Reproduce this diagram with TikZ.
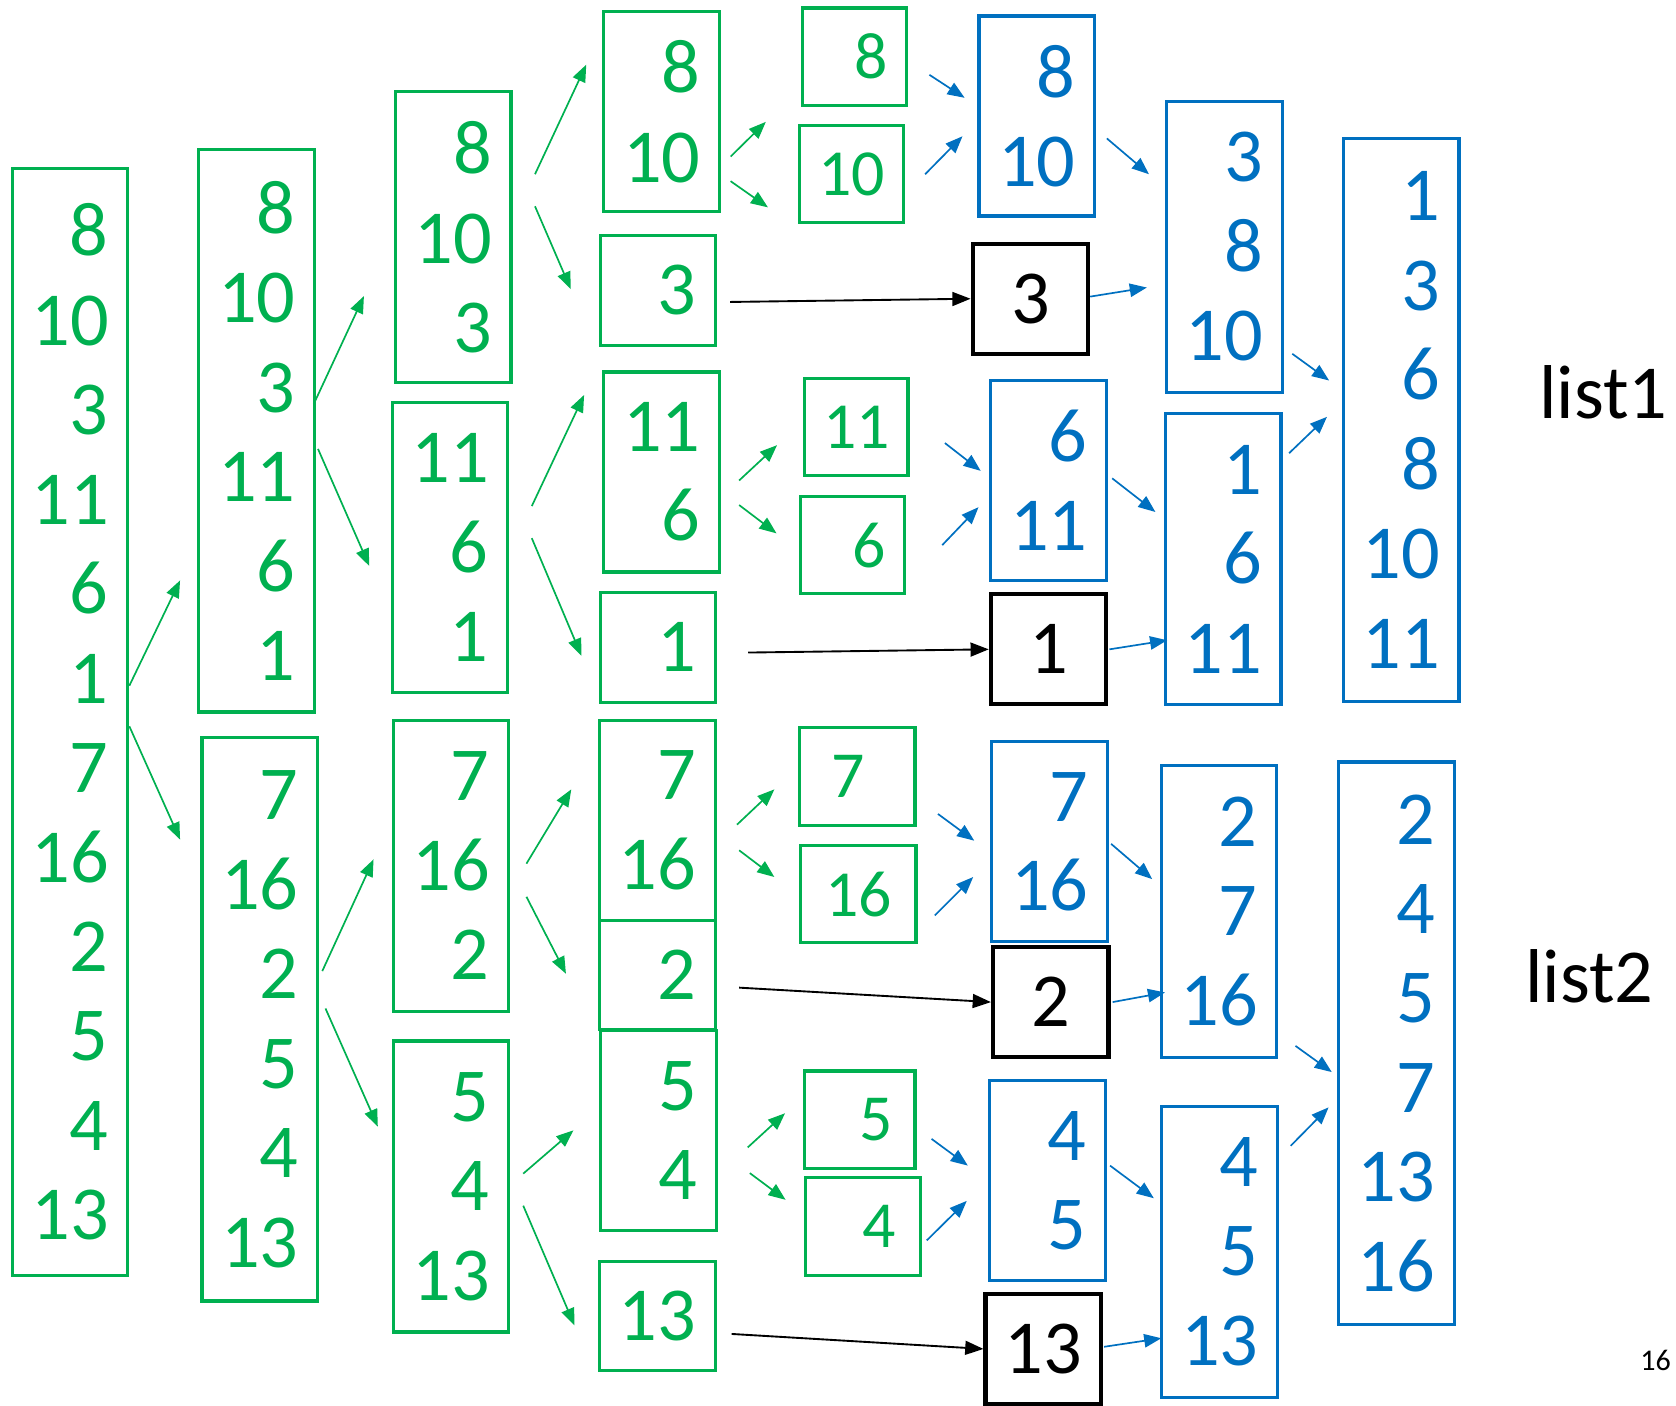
\documentclass[tikz,border=0pt]{standalone}
\usepackage{fontspec}
\setmainfont{Carlito}
\usetikzlibrary{calc, arrows.meta}
\definecolor{sortgreen}{HTML}{00B050}
\definecolor{sortblue}{HTML}{0070C0}
\newcommand{\numfont}{\fontsize{20.3}{23.8}\selectfont}
\newcommand{\leaffont}{\fontsize{17.5}{21}\selectfont}

\begin{document}
\begin{tikzpicture}[x=0.01cm, y=-0.01cm,
    split/.style={draw=sortgreen, text=sortgreen, line width=0.85pt, font=\numfont,
      align=right, text width=0.72cm, inner xsep=0.18cm, inner ysep=0pt, minimum width=1.08cm},
    leaf/.style={split, font=\leaffont, text width=0.62cm, inner xsep=0.175cm,
      minimum width=0.97cm, minimum height=0.91cm},
    merged/.style={split, draw=sortblue, text=sortblue},
    single/.style={draw=black, line width=1.1pt, font=\numfont, align=center,
      minimum width=1.08cm, minimum height=1.03cm, inner sep=0pt},
    garrow/.style={draw=sortgreen, line width=0.45pt, -{Triangle[length=0.16cm, width=0.125cm]}},
    barrow/.style={garrow, draw=sortblue},
    karrow/.style={draw=black, line width=0.5pt, -{Triangle[length=0.17cm, width=0.13cm]}}]
  \useasboundingbox (0,0) rectangle (1568,1315);

  % Splitting
  \node[split, minimum height=10.35cm] (A) at (65.5,675.5) {8\\10\\3\\11\\6\\1\\7\\16\\2\\5\\4\\13};
  \foreach \n/\x/\y/\h/\t in {B1/240/403/5.26/{8\\10\\3\\11\\6\\1}, B2/243/953.5/5.27/{7\\16\\2\\5\\4\\13},
      C1/424/222/2.72/{8\\10\\3}, C2/421/512.5/2.71/{11\\6\\1},
      C3/422/810/2.72/{7\\16\\2}, C4/422/1110/2.72/{5\\4\\13},
      D1/619/104.5/1.87/{8\\10}, D2/615.5/271.5/1.03/{3}, D3/619/441.5/1.87/{11\\6}, D4/615.5/605.5/1.03/{1},
      D5/615/767.5/1.87/{7\\16}, D6/615/912/1.02/{2}, D7/616/1057.5/1.87/{5\\4}, D8/615/1231/1.02/{13}} {
    \node[split, minimum height=\h cm] (\n) at (\x,\y) {\t};
  }
  % Leaves
  \foreach \n/\x/\y/\w/\t in {E1/799.5/53/0.97/8, E2/796.5/163/0.97/10, E3/801/399.5/0.97/11, E4/797.5/510/0.97/6,
      E5/802/726.5/1.08/{7\kern0.24cm}, E6/803/836.5/1.08/16, E7/804.5/1047.5/1.03/5, E8/807.5/1147.5/1.08/4} {
    \node[leaf, minimum width=\w cm] (\n) at (\x,\y) {\t};
  }
  % Merging
  \foreach \n/\x/\y/\h/\t in {F1/970/108.5/1.87/{8\\10}, F2/981/449.5/1.87/{6\\11},
      F3/982/787.5/1.87/{7\\16}, F4/980/1104.5/1.87/{4\\5},
      H1/1145.5/231/2.72/{3\\8\\10}, H2/1144.5/523/2.72/{1\\6\\11},
      H3/1140.5/852.5/2.73/{2\\7\\16}, H4/1141/1171/2.72/{4\\5\\13},
      I1/1311/393/5.26/{1\\3\\6\\8\\10\\11}, I2/1306.5/976/5.26/{2\\4\\5\\7\\13\\16}} {
    \node[merged, minimum height=\h cm] (\n) at (\x,\y) {\t};
  }
  \foreach \n/\x/\y/\t in {G1/964/279.5/3, G2/981/607.5/1, G3/983/937.5/2, G4/976/1262/13} {
    \node[single] (\n) at (\x,\y) {\t};
  }

  % Split arrows
  \foreach \a/\ax/\ay/\b/\bx/\by in {A.east/0/-34/B1.west/-16/140, A.east/0/4/B2.west/-19/-168,
      B1.east/-2/-25/C1.west/-28/55, B1.east/2/17/C2.west/-20/17,
      B2.east/3/-45/C3.west/-17/-6, B2.east/6/-10/C4.west/-13/-56,
      C1.east/21/-59/D1.west/-15/-44, C1.east/21/-29/D2.west/-26/-1,
      C2.east/21/-39/D3.west/-17/-72, C2.east/21/-9/D4.west/-16/8,
      C3.east/15/-2/D5.west/-25/-29, C3.east/15/29/D6.west/-30/-1,
      C4.east/12/-12/D7.west/-24/0, C4.east/12/18/D8.west/-22/9,
      D1.east/9/42/E1.south west/-33/14, D1.east/9/65/E2.west/-28/31,
      D3.east/17/8/E3.west/-24/17, D3.east/17/31/E4.west/-21/-11,
      D5.east/19/4/E5.west/-22/12, D5.east/21/28/E6.west/-23/-16,
      D7.east/28/16/E7.west/-17/-6, D7.east/30/40/E8.west/-17/-25} {
    \draw[garrow] ($(\a)+(\ax,\ay)$) -- ($(\b)+(\bx,\by)$);
  }
  % Merge arrows
  \foreach \a/\ax/\ay/\b/\bx/\by in {E1.east/20/17/F1.west/-12/-17, E2.east/19/0/F1.west/-14/19,
      E3.east/33/15/F2.west/-8/-9, E4.east/34/0/F2.west/-10/25,
      E5.east/20/35/F3.west/-15/-1, E6.east/16/20/F3.west/-16/33,
      E7.east/14/18/F4.west/-19/-14, E8.east/4/13/F4.west/-20/19,
      F1.east/10/21/H1.west/-15/-68, G1.east/0/-2/H1.west/-17/38,
      F2.east/4/-2/H2.west/-8/-44, G2.east/1/0/H2.west/3/76,
      F3.east/2/2/H3.west/-7/-30, G3.east/2/0/H3.west/5/76,
      F4.east/3/-14/H4.west/-6/-50, G4.east/1/-2/H4.west/1/81,
      H1.east/8/100/I1.west/-12/-37, H2.east/6/-99/I1.west/-14/-3,
      H3.east/16/126/I2.west/-5/27, H4.east/11/-99/I2.west/-8/60} {
    \draw[barrow] ($(\a)+(\ax,\ay)$) -- ($(\b)+(\bx,\by)$);
  }
  % Single elements carried over
  \foreach \a/\ax/\ay/\b in {D2/12/11/G1, D4/29/5/G2, D6/21/12/G3, D8/14/17/G4} {
    \draw[karrow] ($(\a.east)+(\ax,\ay)$) -- (\b.west);
  }

  % Labels
  \node[font=\numfont] (list1) at (1500,367) {list1};
  \node[font=\numfont] (list2) at (1487,913) {list2};
  \node[font=\fontsize{8}{9}\selectfont] (page) at (1549,1273) {16};
\end{tikzpicture}
\end{document}
